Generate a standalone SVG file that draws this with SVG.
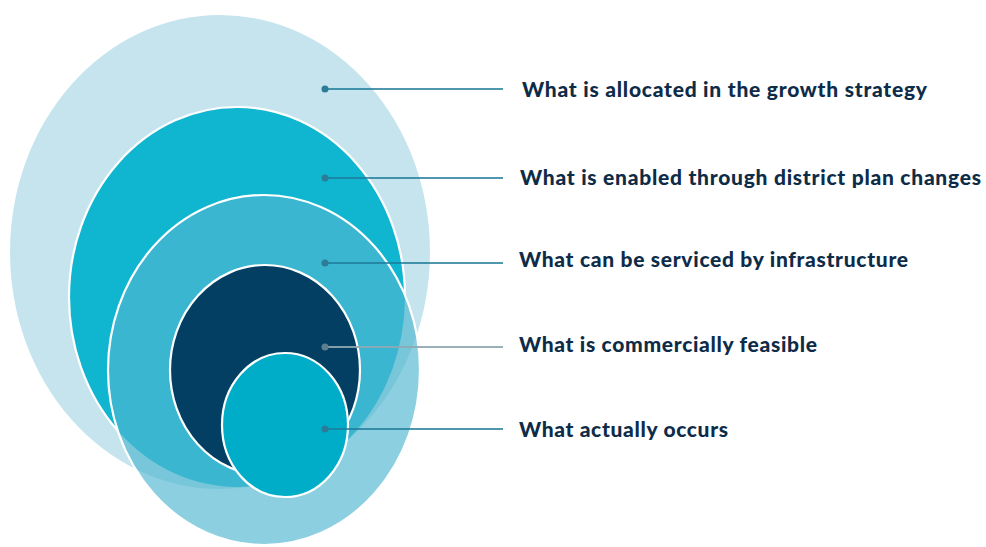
<svg xmlns="http://www.w3.org/2000/svg" width="986" height="547" viewBox="0 0 986 547">
  <style>
    .ring { stroke: #ffffff; stroke-width: 2.2; }
    .leader { stroke: #1d7a99; stroke-opacity: 0.78; stroke-width: 1.8; fill: none; }
    .leader.muted { stroke: #8fa8b2; stroke-opacity: 0.9; }
    .dot { fill: #2c7c98; }
    .dot.muted { fill: #5d7f8d; }
    .label { font-family: Lato, "Noto Sans", "Liberation Sans", sans-serif; font-weight: 900; font-size: 21px; fill: #0e2c48; }
  </style>
  <defs>
    <!-- hides the outline of the second level where the translucent third level covers it -->
    <mask id="outside-serviced" maskUnits="userSpaceOnUse" x="0" y="0" width="986" height="547">
      <rect width="986" height="547" fill="#ffffff"/>
      <ellipse cx="264" cy="370" rx="156" ry="175" fill="#000000"/>
    </mask>
  </defs>
  <rect width="986" height="547" fill="#ffffff"/>

  <!-- nested levels, largest first -->
  <g id="level-allocated">
    <ellipse cx="220" cy="252" rx="210" ry="237" fill="#c5e4ee"/>
  </g>
  <g id="level-enabled">
    <ellipse cx="237" cy="297" rx="168" ry="190" fill="#10b6d0"/>
    <ellipse class="ring" cx="237" cy="297" rx="168" ry="190" fill="none" mask="url(#outside-serviced)"/>
  </g>
  <g id="level-serviced">
    <ellipse cx="264" cy="370" rx="156" ry="175" fill="rgb(80,182,208)" fill-opacity="0.66"/>
    <ellipse class="ring" cx="264" cy="370" rx="156" ry="175" fill="none"/>
  </g>
  <g id="level-feasible">
    <ellipse class="ring" cx="265" cy="370" rx="95" ry="105" fill="#023f63"/>
  </g>
  <g id="level-occurs">
    <ellipse class="ring" cx="285" cy="425" rx="63" ry="72" fill="#00adc8"/>
  </g>

  <!-- leader lines with anchor dots -->
  <g id="connectors">
    <line class="leader" x1="325" y1="89" x2="503" y2="89"/>
    <circle class="dot" cx="325" cy="89" r="3.5"/>
    <line class="leader" x1="325" y1="178" x2="503" y2="178"/>
    <circle class="dot" cx="325" cy="178" r="3.5"/>
    <line class="leader" x1="325" y1="263" x2="503" y2="263"/>
    <circle class="dot" cx="325" cy="263" r="3.5"/>
    <line class="leader muted" x1="325" y1="347" x2="503" y2="347"/>
    <circle class="dot muted" cx="325" cy="347" r="3.5"/>
    <line class="leader" x1="325" y1="429" x2="503" y2="429"/>
    <circle class="dot" cx="325" cy="429" r="3.5"/>
  </g>

  <g id="labels">
    <text class="label" x="522" y="97" textLength="405" lengthAdjust="spacing">What is allocated in the growth strategy</text>
    <text class="label" x="520" y="185" textLength="461" lengthAdjust="spacing">What is enabled through district plan changes</text>
    <text class="label" x="519" y="267" textLength="389" lengthAdjust="spacing">What can be serviced by infrastructure</text>
    <text class="label" x="519" y="352" textLength="298" lengthAdjust="spacing">What is commercially feasible</text>
    <text class="label" x="519" y="437" textLength="209" lengthAdjust="spacing">What actually occurs</text>
  </g>
</svg>
